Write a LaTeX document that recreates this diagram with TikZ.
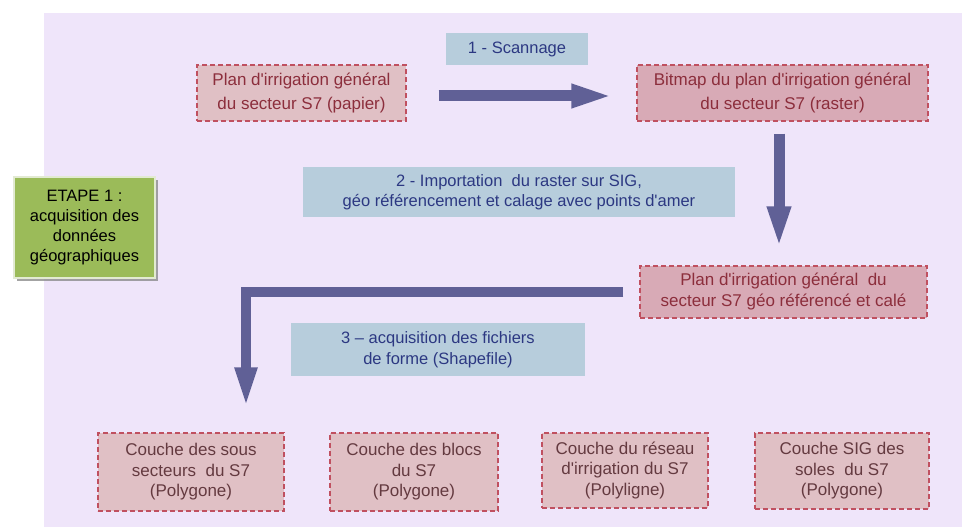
\documentclass[tikz,border=0pt]{standalone}
\usepackage{fontspec}
\setmainfont{Liberation Sans}[Ligatures=TeXOff]
\usetikzlibrary{arrows.meta,shadows}
\definecolor{bgcol}{RGB}{239,229,250}
\definecolor{pinkA}{RGB}{224,192,197}
\definecolor{pinkB}{RGB}{216,170,182}
\definecolor{dashcol}{RGB}{192,80,96}
\definecolor{redtext}{RGB}{140,46,60}
\definecolor{browntext}{RGB}{100,58,64}
\definecolor{bluefill}{RGB}{183,205,220}
\definecolor{bluetext}{RGB}{44,56,130}
\definecolor{arrowcol}{RGB}{96,96,150}
\definecolor{greenfill}{RGB}{155,187,89}
\definecolor{greenedge}{RGB}{226,234,210}
\begin{document}
\begin{tikzpicture}[x=1pt,y=-1pt,
  pinkbox/.style={draw=dashcol, line width=1.2pt, dash pattern=on 5pt off 3pt,
    inner sep=0pt, align=center, text=redtext},
  topfont/.style={font=\fontsize{17}{24}\selectfont},
  midfont/.style={font=\fontsize{17}{21}\selectfont},
  botfont/.style={font=\fontsize{17}{20.5}\selectfont, text=browntext},
  bluebox/.style={fill=bluefill, inner sep=0pt, align=center, text=bluetext,
    font=\fontsize{16.5}{20.5}\selectfont},
  bigarrow/.style={draw=arrowcol, line width=11pt},
]
\useasboundingbox (0,0) rectangle (962,527);
\fill[white] (0,0) rectangle (962,527);
\fill[bgcol] (44,13) rectangle (962,527);

% step labels
\node[bluebox, minimum width=142pt, minimum height=32pt] (s1) at (517,49) {1 - Scannage};
\node[bluebox, minimum width=432pt, minimum height=50pt] (s2) at (519,192)
  {2 - Importation\ \ du raster sur SIG,\\ géo référencement et calage avec points d'amer};
\node[bluebox, minimum width=294pt, minimum height=53pt] (s3) at (438,349.5)
  {3 – acquisition des fichiers\\ de forme (Shapefile)};

% main boxes
\node[pinkbox, topfont, fill=pinkA, minimum width=209pt, minimum height=56pt] (A) at (301.5,93)
  {Plan d'irrigation général\\ du secteur S7 (papier)};
\node[pinkbox, topfont, fill=pinkB, minimum width=291pt, minimum height=56pt] (B) at (782.5,93)
  {Bitmap du plan d'irrigation général\\ du secteur S7 (raster)};
\node[pinkbox, midfont, fill=pinkB, minimum width=287pt, minimum height=52pt] (C) at (783.5,292)
  {Plan d'irrigation général\ \ du\\ secteur S7 géo référencé et calé};

\node[pinkbox, botfont, fill=pinkA, minimum width=186pt, minimum height=78pt] (b1) at (191,472)
  {Couche des sous\\ secteurs\ \ du S7\\ (Polygone)};
\node[pinkbox, botfont, fill=pinkA, minimum width=168pt, minimum height=78pt] (b2) at (414,472)
  {Couche des blocs\\ du S7\\ (Polygone)};
\node[pinkbox, botfont, fill=pinkA, minimum width=166pt, minimum height=75pt] (b3) at (625,470.5)
  {Couche du réseau\\ d'irrigation du S7\\ (Polyligne)};
\node[pinkbox, botfont, fill=pinkA, minimum width=174pt, minimum height=76pt] (b4) at (842,471)
  {Couche SIG des\\ soles\ \ du S7\\ (Polygone)};

% stage box
\node[fill=greenfill, draw=greenedge, line width=1.5pt, inner sep=0pt,
  minimum width=141pt, minimum height=101pt, align=center,
  font=\fontsize{16.5}{20}\selectfont,
  drop shadow={shadow xshift=3pt, shadow yshift=-3pt, fill=black!45, opacity=0.8}] (E) at (84.5,227.5)
  {ETAPE 1 :\\ acquisition des\\ données\\ géographiques};

% arrows
\draw[bigarrow, -{Triangle[length=43pt,width=21pt]}, shorten <=32pt, shorten >=22pt]
  ([yshift=-3pt]A.east) -- ([yshift=-3pt]B.west);
\draw[bigarrow, -{Triangle[length=43pt,width=21pt]}, shorten <=12pt, shorten >=16pt]
  ([xshift=-3.5pt]B.south) -- ([xshift=-4.5pt]C.north);
\draw[bigarrow, line width=10pt, line join=miter, -{Triangle[length=41pt,width=20pt]},
  shorten <=16pt, shorten >=24pt]
  (C.west) -| ([xshift=55pt]b1.north);
\end{tikzpicture}
\end{document}
